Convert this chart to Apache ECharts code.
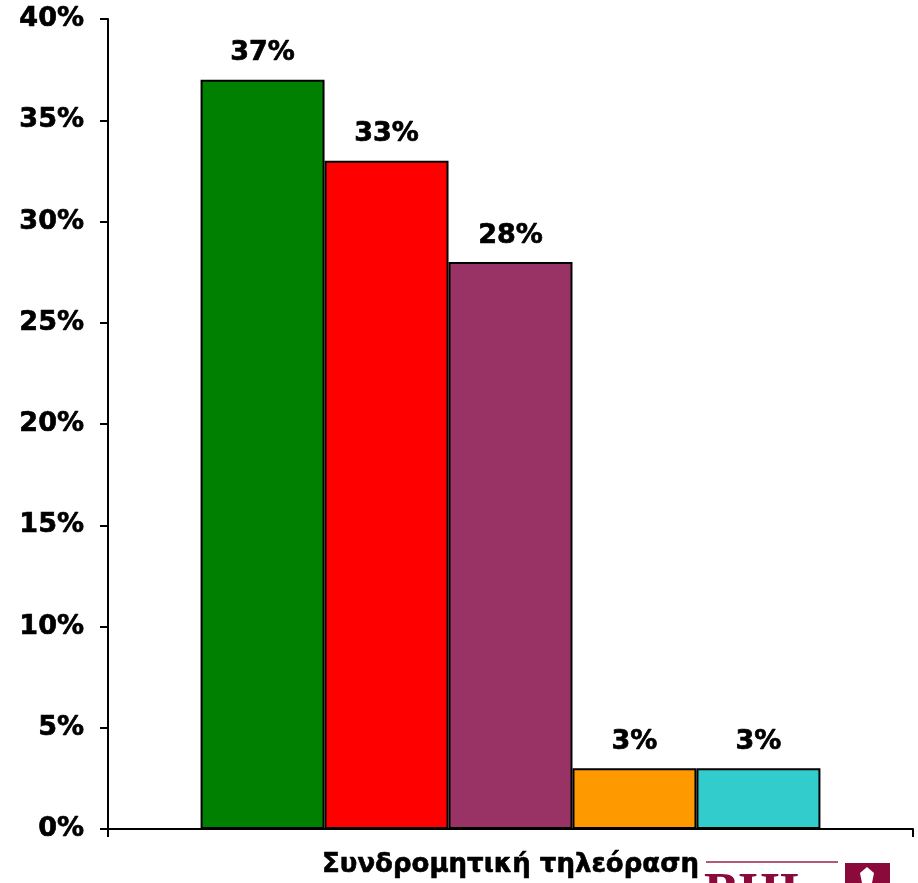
<!DOCTYPE html>
<html>
<head>
<meta charset="utf-8">
<script src="https://cdn.jsdelivr.net/npm/echarts@6/dist/echarts.min.js"></script>
<style>
html,body{margin:0;padding:0;background:#fff;}
#chart{width:918px;height:883px;}
</style>
</head>
<body>
<div id="chart"></div>
<script>
var categories = ['Συνδρομητική τηλεόραση'];
var seriesNames = ['A', 'B', 'C', 'D', 'E'];
var seriesValues = [[37], [33], [28], [3], [3]];
var seriesColors = ['#008000', '#FF0000', '#993366', '#FF9900', '#33CCCC'];
var yTicks = { min: 0, max: 40, interval: 5 };

var font = 'DejaVu Sans, Verdana, sans-serif';
var chart = echarts.init(document.getElementById('chart'));
var series = seriesNames.map(function (n, i) {
  return {
    name: n,
    type: 'bar',
    data: seriesValues[i],
    barGap: '0%',
    barCategoryGap: '23%',
    itemStyle: { color: seriesColors[i], borderColor: '#000', borderWidth: 2 },
    label: {
      show: true, position: 'top', distance: 13,
      formatter: '{c}%', color: '#000', fontFamily: font, fontWeight: 'bold', fontSize: 27,
      textBorderColor: '#000', textBorderWidth: 0.7
    }
  };
});
chart.setOption({
  animation: false,
  backgroundColor: '#fff',
  grid: { left: 108, right: 5, top: 19, bottom: 54, containLabel: false },
  xAxis: {
    type: 'category', data: categories,
    axisLine: { lineStyle: { color: '#000', width: 2 } },
    axisTick: { show: true, length: 8, lineStyle: { color: '#000', width: 2 } },
    axisLabel: { color: '#000', fontFamily: font, fontWeight: 'bold', fontSize: 26, margin: 23,
      textBorderColor: '#000', textBorderWidth: 0.6 }
  },
  yAxis: {
    type: 'value', min: yTicks.min, max: yTicks.max, interval: yTicks.interval,
    axisLine: { show: true, lineStyle: { color: '#000', width: 2 } },
    axisTick: { show: true, length: 8, lineStyle: { color: '#000', width: 2 } },
    splitLine: { show: false },
    axisLabel: { formatter: '{value}%', color: '#000', fontFamily: font, fontWeight: 'bold', fontSize: 27, margin: 24,
      textBorderColor: '#000', textBorderWidth: 0.7 }
  },
  graphic: [
    { type: 'line', shape: { x1: 706, y1: 862, x2: 838, y2: 862 }, style: { stroke: '#b05a78', lineWidth: 2 } },
    { type: 'text', left: 704, top: 870, style: { text: 'BHI', font: 'bold 52px "Liberation Serif", serif', fill: '#8a0a3c' } },
    { type: 'rect', shape: { x: 845, y: 863, width: 45, height: 30 }, style: { fill: '#8a0a3c' } },
    { type: 'polygon', shape: { points: [[867, 867], [874, 873], [872, 883], [862, 883], [860, 873]] }, style: { fill: '#fff' } }
  ],
  series: series
});
</script>
</body>
</html>
